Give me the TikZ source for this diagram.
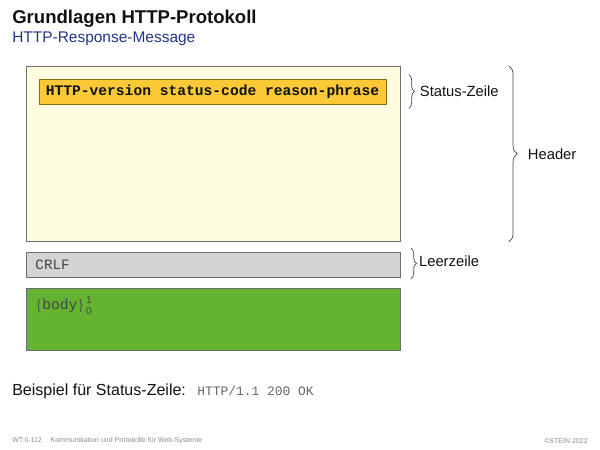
\documentclass[tikz,border=0pt]{standalone}
\usepackage{amsmath}
\usepackage{fontspec}
\setmainfont{Liberation Sans}
\setsansfont{Liberation Sans}
\setmonofont{Liberation Mono}
\usetikzlibrary{positioning, calc, decorations.pathreplacing}
\definecolor{ink}{HTML}{111111}
\definecolor{headblue}{HTML}{23358A}
\definecolor{frame}{HTML}{6E6E6E}
\definecolor{hdrfill}{HTML}{FFFDE0}
\definecolor{statfill}{HTML}{FBC936}
\definecolor{statframe}{HTML}{8A6A14}
\definecolor{crlffill}{HTML}{D4D4D4}
\definecolor{bodyfill}{HTML}{64B432}
\definecolor{muted}{HTML}{444444}
\definecolor{sample}{HTML}{666666}
\definecolor{foot}{HTML}{8A8A8A}
\tikzset{
  every node/.style = {font=\sffamily, text=ink},
  msgbox/.style   = {draw=frame, line width=0.6pt, anchor=north west, inner sep=0pt,
                     minimum width=9.35cm},
  hdrbox/.style   = {msgbox, fill=hdrfill, minimum height=4.375cm},
  crlfbox/.style  = {msgbox, fill=crlffill, minimum height=0.625cm, text width=8.9cm,
                     inner xsep=0.225cm, align=left, font=\ttfamily\fontsize{10.2}{12}\selectfont,
                     text=muted},
  bodybox/.style  = {msgbox, fill=bodyfill, minimum height=1.55cm},
  statbox/.style  = {draw=statframe, line width=0.6pt, fill=statfill, inner sep=0pt,
                     minimum width=8.675cm, minimum height=0.625cm,
                     font=\ttfamily\bfseries\fontsize{10.4}{12}\selectfont},
  grpbrace/.style = {decorate, decoration={brace, amplitude=#1}, draw=muted, line width=0.5pt},
  grplab/.style   = {font=\sffamily\fontsize{10.5}{12}\selectfont, anchor=west, inner sep=0pt},
  slidehead/.style= {font=\sffamily\bfseries\fontsize{13.2}{15}\selectfont, anchor=west, inner sep=0pt},
  slidesub/.style = {font=\sffamily\fontsize{11}{13}\selectfont, text=headblue, anchor=west, inner sep=0pt},
  slidefoot/.style= {font=\sffamily\tiny, text=foot, inner sep=0pt},
}

\begin{document}
\begin{tikzpicture}
\useasboundingbox (0,0) rectangle (15,11.25);

\node[slidehead] (title) at (0.3,10.79) {Grundlagen HTTP-Protokoll};
\node[slidesub] (subtitle) at (0.3,10.27) {HTTP-Response-Message};

% message parts
\node[hdrbox] (hdr) at (0.65,9.6) {};
\node[statbox] (stat) at (5.3125,8.9625) {HTTP-version status-code reason-phrase};
\node[crlfbox] (crlf) at (0.65,4.95) {CRLF};
\node[bodybox] (body) at (0.65,4.05) {};
\node[anchor=north west, inner sep=0pt, font=\ttfamily\fontsize{10.4}{12}\selectfont, text=muted]
  (bodytxt) at ([shift={(0.225,-0.2)}]body.north west)
  {$\{$body$\}\genfrac{}{}{0pt}{}{\mathsf{1}}{\mathsf{0}}$};

% braces
\coordinate (s1) at ($(hdr.east |- stat.north)+(0.2,0.1)$);
\coordinate (s2) at ($(hdr.east |- stat.south)+(0.2,-0.1)$);
\draw[grpbrace=4pt] (s1) -- (s2);
\node[grplab] (statlab) at ($(s1)!0.5!(s2)+(0.27,0)$) {Status-Zeile};

\coordinate (h1) at ($(hdr.north east)+(2.7,0)$);
\coordinate (h2) at ($(hdr.south east)+(2.7,0)$);
\draw[grpbrace=6pt] (h1) -- (h2);
\node[grplab] (hdrlab) at ($(h1)!0.5!(h2)+(0.47,0)$) {Header};

\coordinate (c1) at ($(crlf.north east)+(0.25,0.1)$);
\coordinate (c2) at ($(crlf.south east)+(0.25,-0.025)$);
\draw[grpbrace=4pt] (c1) -- (c2);
\node[grplab] (crlflab) at ($(c1)!0.5!(c2)+(0.2,0.05)$) {Leerzeile};

% example and footer
\node[grplab, font=\sffamily\fontsize{11.4}{13}\selectfont] (ex) at (0.3,1.475) {Beispiel für Status-Zeile:};
\node[anchor=west, inner sep=0pt, font=\ttfamily\fontsize{9.2}{11}\selectfont, text=sample]
  (exval) at (4.925,1.475) {HTTP/1.1 200 OK};
\node[slidefoot, anchor=west] (footl) at (0.3,0.225)
  {WT:II-112\hspace{2.2mm}Kommunikation und Protokolle für Web-Systeme};
\node[slidefoot, anchor=east] (footr) at (14.7,0.225) {©STEIN 2022};
\end{tikzpicture}
\end{document}
